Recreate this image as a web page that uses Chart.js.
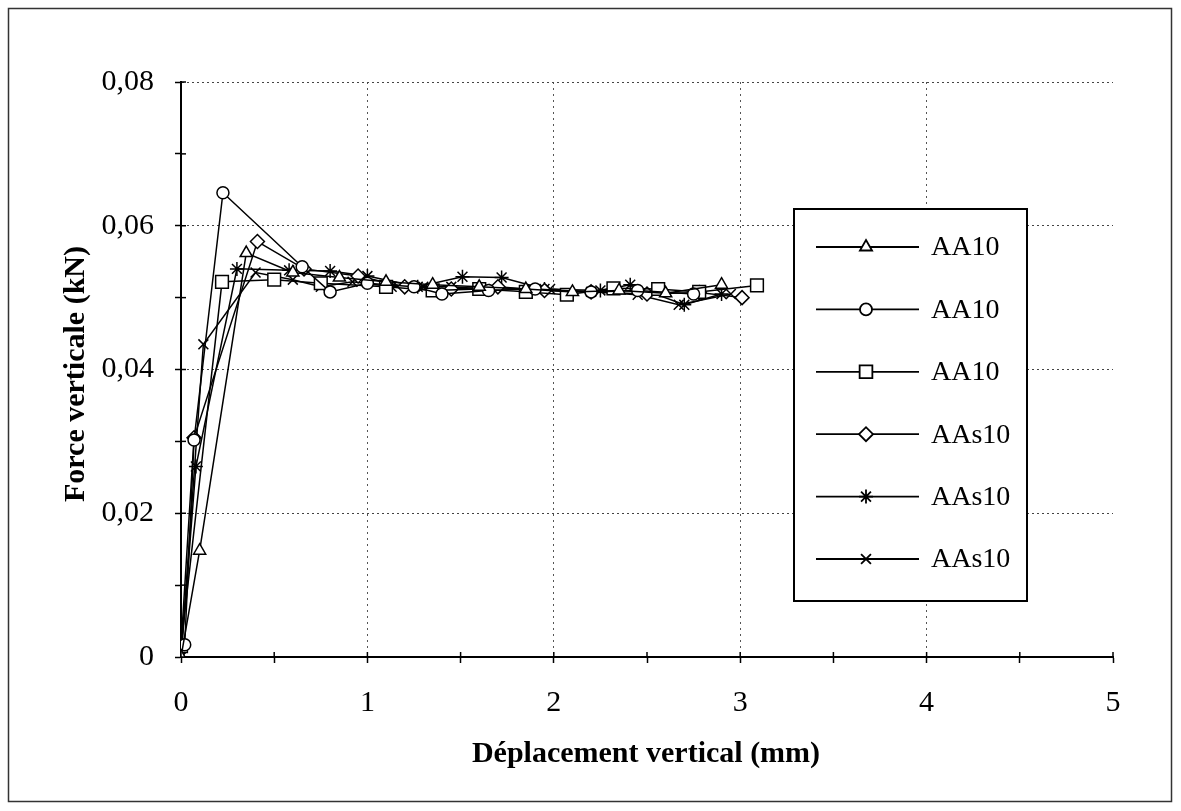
<!DOCTYPE html>
<html><head><meta charset="utf-8">
<script src="https://cdn.jsdelivr.net/npm/chart.js@4.4.1/dist/chart.umd.min.js"></script>
<style>html,body{margin:0;padding:0;background:#fff}#wrap{width:1181px;height:811px}</style>
</head><body><div id="wrap"><canvas id="c" width="1181" height="811"></canvas></div>
<script>
// ---- data ----
const seriesLabels = ['AA10', 'AA10', 'AA10', 'AAs10', 'AAs10', 'AAs10'];
const markerStyles = ['triangle', 'circle', 'rect', 'rectRot', 'star', 'crossRot'];
const markerSizes = [7, 6, 9, 7, 7, 7];

const s1x = [0, 0.10, 0.35, 0.60, 0.85, 1.10, 1.35, 1.60, 1.85, 2.10, 2.35, 2.60, 2.90];
const s1y = [0, 0.0148, 0.0562, 0.0535, 0.0528, 0.0522, 0.0518, 0.0515, 0.0512, 0.0508, 0.0510, 0.0506, 0.0518];

const s2x = [0.02, 0.07, 0.225, 0.65, 0.80, 1.00, 1.25, 1.40, 1.65, 1.90, 2.20, 2.45, 2.75];
const s2y = [0.0017, 0.0302, 0.0646, 0.0543, 0.0508, 0.0520, 0.0515, 0.0505, 0.0510, 0.0512, 0.0508, 0.0510, 0.0505];

const s3x = [0, 0.22, 0.50, 0.75, 1.10, 1.35, 1.60, 1.85, 2.07, 2.32, 2.56, 2.78, 3.09];
const s3y = [0.0015, 0.0522, 0.0525, 0.0520, 0.0515, 0.0510, 0.0512, 0.0508, 0.0504, 0.0513, 0.0512, 0.0508, 0.0517];

const s4x = [0, 0.07, 0.41, 0.66, 0.95, 1.20, 1.45, 1.70, 1.95, 2.20, 2.50, 2.78, 3.01];
const s4y = [0.0015, 0.0305, 0.0578, 0.0540, 0.0530, 0.0515, 0.0512, 0.0515, 0.0510, 0.0508, 0.0505, 0.0507, 0.0500];

const s5x = [0, 0.08, 0.30, 0.58, 0.80, 1.00, 1.27, 1.51, 1.72, 1.95, 2.25, 2.41, 2.70, 2.90];
const s5y = [0, 0.0265, 0.0540, 0.0538, 0.0537, 0.0530, 0.0515, 0.0529, 0.0528, 0.0512, 0.0510, 0.0518, 0.0490, 0.0505];

const s6x = [0, 0.12, 0.40, 0.60, 0.75, 0.92, 1.13, 1.30, 1.45, 1.63, 1.98, 2.20, 2.45, 2.67, 2.95];
const s6y = [0, 0.0435, 0.0535, 0.0525, 0.0515, 0.0522, 0.0515, 0.0515, 0.0515, 0.0512, 0.0512, 0.0508, 0.0504, 0.0490, 0.0505];

const xTickLabels = ['0', '1', '2', '3', '4', '5'];
const yTickLabels = ['0', '0,02', '0,04', '0,06', '0,08'];
const xTitle = 'Déplacement vertical (mm)';
const yTitle = 'Force verticale (kN)';

// ---- build ----
const allX = [s1x, s2x, s3x, s4x, s5x, s6x];
const allY = [s1y, s2y, s3y, s4y, s5y, s6y];
const datasets = allX.map((xs, i) => ({
  label: seriesLabels[i],
  data: xs.map((x, j) => ({x: x, y: allY[i][j]})),
  showLine: true,
  borderColor: '#000',
  borderWidth: 1.5,
  backgroundColor: '#fff',
  pointStyle: markerStyles[i],
  pointRadius: markerSizes[i],
  pointBorderColor: '#000',
  pointBackgroundColor: '#fff',
  pointBorderWidth: 1.5,
  tension: 0
}));

const FONT = '"Liberation Serif", "Times New Roman", serif';

const decor = {
  id: 'decor',
  afterDraw(chart) {
    const ctx = chart.ctx;
    const xs = chart.scales.x, ys = chart.scales.y;
    ctx.save();
    // outer frame
    ctx.strokeStyle = '#333';
    ctx.lineWidth = 1.5;
    ctx.strokeRect(8.5, 8.5, 1163, 793);
    // inner tick halves
    ctx.strokeStyle = '#000';
    ctx.lineWidth = 1.5;
    ys.ticks.forEach(t => {
      const p = ys.getPixelForValue(t.value);
      ctx.beginPath(); ctx.moveTo(xs.left, p); ctx.lineTo(xs.left + 5, p); ctx.stroke();
    });
    xs.ticks.forEach(t => {
      const p = xs.getPixelForValue(t.value);
      ctx.beginPath(); ctx.moveTo(p, ys.bottom); ctx.lineTo(p, ys.bottom - 5); ctx.stroke();
    });
    // axis titles
    ctx.fillStyle = '#000';
    ctx.font = 'bold 30px ' + FONT;
    ctx.textAlign = 'center';
    ctx.textBaseline = 'middle';
    ctx.fillText(xTitle, 646, 754);
    ctx.save();
    ctx.translate(76, 374);
    ctx.rotate(-Math.PI / 2);
    ctx.fillText(yTitle, 0, 0);
    ctx.restore();
    // legend
    const bx = 794, by = 209, bw = 233, bh = 392;
    ctx.fillStyle = '#fff';
    ctx.fillRect(bx, by, bw, bh);
    ctx.strokeStyle = '#000';
    ctx.lineWidth = 2;
    ctx.strokeRect(bx, by, bw, bh);
    ctx.font = '28px ' + FONT;
    ctx.textAlign = 'left';
    chart.data.datasets.forEach((ds, i) => {
      const y = 247 + i * 62.4;
      ctx.strokeStyle = '#000';
      ctx.lineWidth = 1.8;
      ctx.beginPath(); ctx.moveTo(816, y); ctx.lineTo(919, y); ctx.stroke();
      ctx.fillStyle = '#fff';
      Chart.helpers.drawPoint(ctx, {pointStyle: ds.pointStyle, radius: ds.pointRadius, rotation: 0, borderWidth: 1.5}, 866, y);
      ctx.fillStyle = '#000';
      ctx.fillText(ds.label, 931, y + 1);
    });
    ctx.restore();
  }
};

new Chart(document.getElementById('c'), {
  type: 'scatter',
  data: {datasets},
  plugins: [decor],
  options: {
    responsive: false,
    animation: false,
    devicePixelRatio: 1,
    layout: {padding: {top: 82, right: 68, left: 0, bottom: 0}},
    plugins: {legend: {display: false}, tooltip: {enabled: false}},
    scales: {
      x: {
        type: 'linear', min: 0, max: 5,
        afterFit: s => { s.height = 154; },
        afterBuildTicks: s => { s.ticks = []; for (let k = 0; k <= 10; k++) s.ticks.push({value: k * 0.5}); },
        ticks: {
          autoSkip: false, maxRotation: 0, padding: 22, color: '#000',
          font: {family: FONT, size: 30},
          callback: (v) => { const k = Math.round(v * 2); return k % 2 === 0 ? xTickLabels[k / 2] : ''; }
        },
        grid: {
          color: c => { const v = c.tick ? c.tick.value : 0; const k = Math.round(v * 2); return (k % 2 === 0 && k > 0 && k < 10) ? '#555' : 'rgba(0,0,0,0)'; },
          lineWidth: 1, tickLength: 6, tickColor: '#000', tickWidth: 1.5
        },
        border: {display: true, color: '#000', width: 2, dash: [2, 4]}
      },
      y: {
        type: 'linear', min: 0, max: 0.08,
        afterFit: s => { s.width = 181; },
        afterBuildTicks: s => { s.ticks = []; for (let k = 0; k <= 8; k++) s.ticks.push({value: k * 0.01}); },
        ticks: {
          autoSkip: false, padding: 21, color: '#000',
          font: {family: FONT, size: 30},
          callback: (v) => { const k = Math.round(v * 100); return k % 2 === 0 ? yTickLabels[k / 2] : ''; }
        },
        grid: {
          color: c => { const v = c.tick ? c.tick.value : 0; const k = Math.round(v * 100); return (k % 2 === 0 && k > 0) ? '#444' : 'rgba(0,0,0,0)'; },
          lineWidth: 1, tickLength: 6, tickColor: '#000', tickWidth: 1.5
        },
        border: {display: true, color: '#000', width: 2, dash: [2, 3]}
      }
    }
  }
});
</script>
</body></html>
